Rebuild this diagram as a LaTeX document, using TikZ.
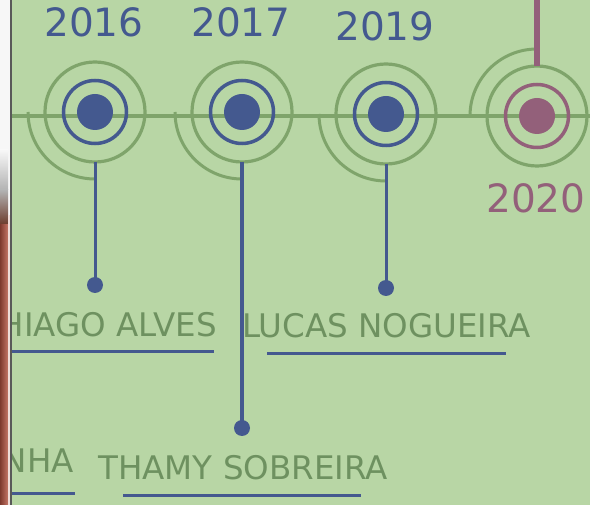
\documentclass[tikz,border=0pt]{standalone}
\usepackage{fontspec}
\setmainfont{DejaVu Sans}
\definecolor{bg}{HTML}{B8D6A5}
\definecolor{tlgreen}{HTML}{7FA46B}
\definecolor{tblue}{HTML}{44598F}
\definecolor{mauve}{HTML}{93607A}
\definecolor{namegreen}{HTML}{6E9160}
\definecolor{stripdark}{HTML}{7E3A2E}
\definecolor{striplight}{HTML}{C47566}
\definecolor{stripbrown}{HTML}{6B3A2A}
\tikzset{
  outerring/.style={circle, draw=tlgreen, line width=3.2pt, minimum size=100pt, inner sep=0pt, outer sep=0pt},
  innerring/.style={circle, draw=#1, line width=3.5pt, minimum size=63pt, inner sep=0pt, outer sep=0pt},
  coredot/.style={circle, fill=#1, minimum size=36pt, inner sep=0pt, outer sep=0pt},
  enddot/.style={circle, fill=tblue, minimum size=16pt, inner sep=0pt, outer sep=0pt},
  arcline/.style={draw=tlgreen, line width=3pt},
  connline/.style={draw=tblue, line width=#1},
  yearlabel/.style={text=#1, font=\fontsize{39}{39}\selectfont, inner sep=0pt, anchor=base},
  personlabel/.style={text=namegreen, font=\fontsize{32.5}{32.5}\selectfont, inner sep=0pt, anchor=base},
  uline/.style={draw=tblue, line width=3pt}
}
\begin{document}
\begin{tikzpicture}[x=1pt,y=1pt]
\useasboundingbox (0,0) rectangle (590,-505);
\fill[bg] (0,0) rectangle (590,-505);
% timeline
\coordinate (tlstart) at (11,-116.5);
\coordinate (tlend) at (590,-116.5);
\draw[tlgreen, line width=4pt] (tlstart) -- (tlend);
% arcs
\draw[arcline] (28,-112) arc[start angle=180, end angle=270, radius=67];
\draw[arcline] (175,-112) arc[start angle=180, end angle=270, radius=67];
\draw[arcline] (319,-114) arc[start angle=180, end angle=270, radius=67];
\draw[arcline] (470,-116) arc[start angle=180, end angle=90, radius=67];
% markers
\node[outerring] (o1) at (95,-112) {};
\node[innerring=tblue] (r1) at (95,-112) {};
\node[coredot=tblue] (c1) at (95,-112) {};
\node[outerring] (o2) at (242,-112) {};
\node[innerring=tblue] (r2) at (242,-112) {};
\node[coredot=tblue] (c2) at (242,-112) {};
\node[outerring] (o3) at (386,-114) {};
\node[innerring=tblue] (r3) at (386,-114) {};
\node[coredot=tblue] (c3) at (386,-114) {};
\node[outerring] (o4) at (537,-116) {};
\node[innerring=mauve] (r4) at (537,-116) {};
\node[coredot=mauve] (c4) at (537,-116) {};
% end dots and connectors
\node[enddot] (e1) at (95,-285) {};
\node[enddot] (e2) at (242,-428) {};
\node[enddot] (e3) at (386,-288) {};
\coordinate (top4) at (537,0);
\draw[connline=3pt] (o1.south) -- (e1.center);
\draw[connline=4pt] (o2.south) -- (e2.center);
\draw[connline=3pt] (o3.south) -- (e3.center);
\draw[draw=mauve, line width=5.5pt] (o4.north) -- (top4);
% years
\node[yearlabel=tblue] (y1) at (94,-37) {2016};
\node[yearlabel=tblue] (y2) at (241,-37) {2017};
\node[yearlabel=tblue] (y3) at (385,-41) {2019};
\node[yearlabel=mauve] (y4) at (536,-213) {2020};
% names
\node[personlabel, anchor=base east] (n1) at (217,-337) {HIAGO ALVES};
\node[personlabel] (n2) at (386.5,-338) {LUCAS NOGUEIRA};
\node[personlabel, anchor=base east] (n3) at (74,-473) {NHA};
\node[personlabel] (n4) at (243,-480) {THAMY SOBREIRA};
% underlines
\draw[uline] (11,-352) -- (214,-352);
\draw[uline] (267,-354) -- (506,-354);
\draw[uline] (11,-494) -- (75,-494);
\draw[uline] (123,-496) -- (361,-496);
% left strip
\fill[white!94!gray] (0,0) rectangle (10,-215);
\shade[top color=white!94!gray, bottom color=gray!60] (0,-150) rectangle (8,-190);
\shade[top color=gray!60, bottom color=stripbrown] (0,-190) rectangle (8,-225);
\shade[left color=stripdark, right color=striplight] (0,-225) rectangle (8,-505);
\fill[white!75!striplight] (8,-215) rectangle (10,-505);
\draw[black!65, line width=1.5pt] (10.75,0) -- (10.75,-505);
\end{tikzpicture}
\end{document}
